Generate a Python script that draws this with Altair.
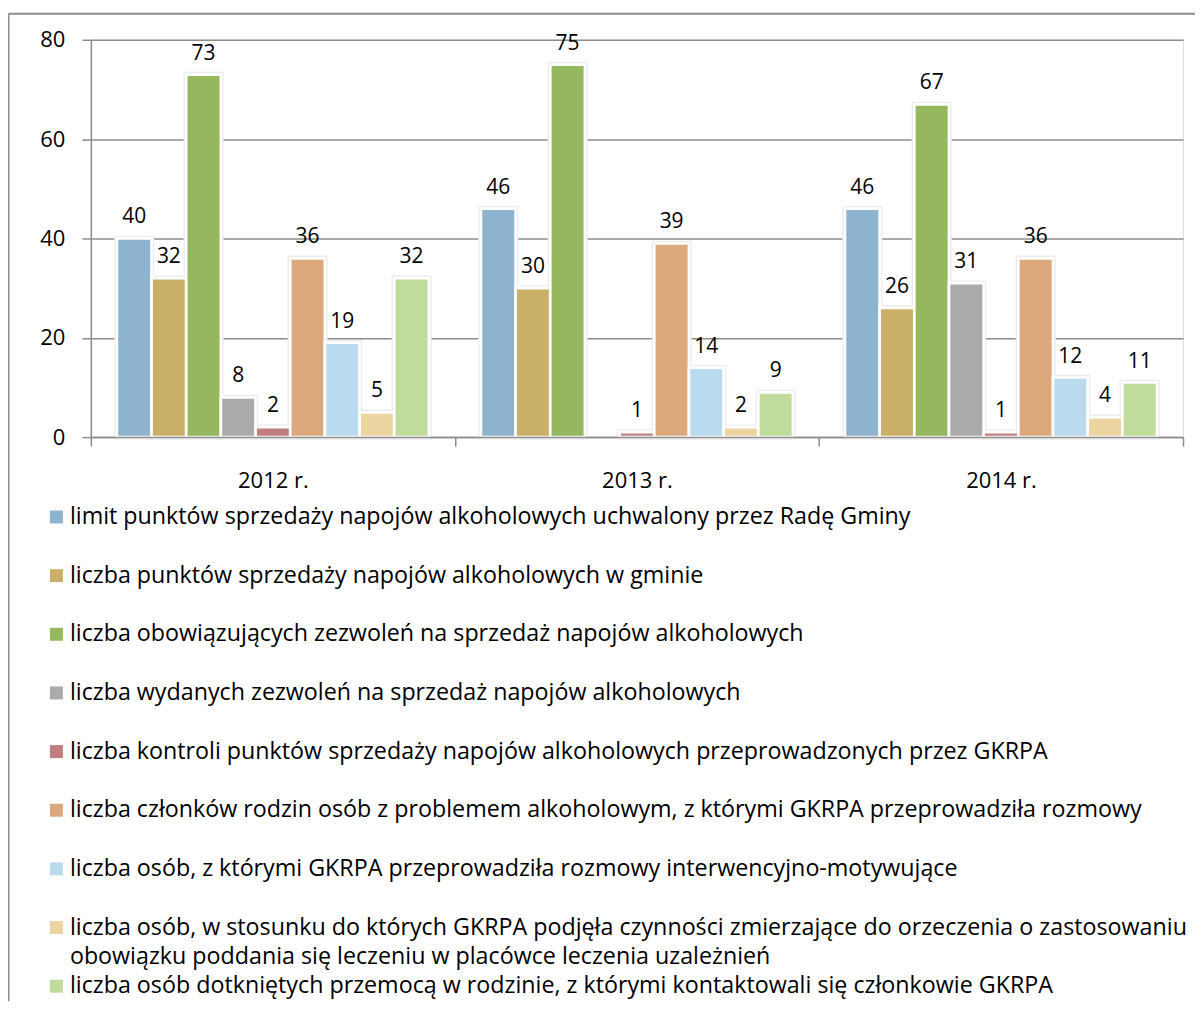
import altair as alt
import pandas as pd

years = ["2012 r.", "2013 r.", "2014 r."]
series = [
    "limit punktów sprzedaży napojów alkoholowych uchwalony przez Radę Gminy",
    "liczba punktów sprzedaży napojów alkoholowych w gminie",
    "liczba obowiązujących zezwoleń na sprzedaż napojów alkoholowych",
    "liczba wydanych zezwoleń na sprzedaż napojów alkoholowych",
    "liczba kontroli punktów sprzedaży napojów alkoholowych przeprowadzonych przez GKRPA",
    "liczba członków rodzin osób z problemem alkoholowym, z którymi GKRPA przeprowadziła rozmowy",
    "liczba osób, z którymi GKRPA przeprowadziła rozmowy interwencyjno-motywujące",
    "liczba osób, w stosunku do których GKRPA podjęła czynności zmierzające do orzeczenia o zastosowaniu\nobowiązku poddania się leczeniu w placówce leczenia uzależnień",
    "liczba osób dotkniętych przemocą w rodzinie, z którymi kontaktowali się członkowie GKRPA",
]
colors = ["#8DB3CF", "#C9B066", "#95B75D", "#AAAAAA", "#C07E7E",
          "#DDA97C", "#BADAEE", "#EDD5A2", "#C0DB9C"]
v2012 = [40, 32, 73, 8, 2, 36, 19, 5, 32]
v2013 = [46, 30, 75, None, 1, 39, 14, 2, 9]
v2014 = [46, 26, 67, 31, 1, 36, 12, 4, 11]
y_ticks = [0, 20, 40, 60, 80]

rows = []
for yr, vals in zip(years, [v2012, v2013, v2014]):
    for s, v in zip(series, vals):
        rows.append({"year": yr, "series": s, "value": v})
df = pd.DataFrame(rows)
leg = pd.DataFrame({"series": series, "idx": list(range(len(series)))})

W, H = 1094, 398
FONT = "Open Sans"
GRID = "#8C8C8C"

x_enc = alt.X("year:N", sort=years,
              scale=alt.Scale(paddingInner=0, paddingOuter=0),
              axis=alt.Axis(title=None, labelAngle=0, tickBand="extent",
                            labelFontSize=22, labelPadding=24, tickSize=9,
                            tickColor=GRID, domainColor=GRID, tickWidth=1.5,
                            domainWidth=1.5, labelColor="#000000", labelFont=FONT,
                            zindex=1))
xo_enc = alt.XOffset("series:N", sort=series,
                     scale=alt.Scale(paddingInner=0, paddingOuter=0.75))
y_enc = alt.Y("value:Q", scale=alt.Scale(domain=[0, 80]),
              axis=alt.Axis(title=None, values=y_ticks, labelFontSize=22,
                            labelPadding=17, tickSize=9, tickColor=GRID,
                            domainColor=GRID, gridColor=GRID, grid=True,
                            tickWidth=1.5, domainWidth=1.5, gridWidth=1.5,
                            labelColor="#000000", labelFont=FONT))
c_enc = alt.Color("series:N", scale=alt.Scale(domain=series, range=colors), legend=None)

halo = alt.Chart(df).mark_bar(color="#EBEBEB", stroke="#ECECEC", strokeWidth=5.4).encode(
    x=x_enc, xOffset=xo_enc, y=y_enc)
bars = alt.Chart(df).mark_bar(stroke="white", strokeWidth=2.7).encode(
    x=x_enc, xOffset=xo_enc, y=y_enc, color=c_enc)
labels = alt.Chart(df).transform_filter("isValid(datum.value)").mark_text(
    baseline="alphabetic", dy=-15, fontSize=21, font=FONT, color="#000000"
).encode(x=x_enc, xOffset=xo_enc, y=y_enc, text=alt.Text("value:Q"))
main = alt.layer(halo, bars, labels)

ly = alt.Y("idx:Q", scale=alt.Scale(domain=[0, 8], range=[478, 948]), axis=None)
sq = alt.Chart(leg).mark_square(size=169, opacity=1).encode(
    x=alt.value(-34.5), y=ly, color=c_enc)
tx = alt.Chart(leg).mark_text(align="left", baseline="alphabetic", dy=7,
                              fontSize=23.3, font=FONT, color="#000000",
                              lineBreak="\n", lineHeight=30).encode(
    x=alt.value(-21), y=ly, text="series:N")
legend = alt.layer(sq, tx)

dummy = alt.Data(values=[{}])
frame_l = alt.Chart(dummy).mark_rule(color=GRID, strokeWidth=2).encode(
    x=alt.value(-82.5), y=alt.value(-26), y2=alt.value(H + 600))
frame_t = alt.Chart(dummy).mark_rule(color=GRID, strokeWidth=2).encode(
    x=alt.value(-82.5), x2=alt.value(W + 40), y=alt.value(-26))

chart = alt.layer(main, legend, frame_l, frame_t).resolve_scale(
    y="independent"
).properties(
    width=W, height=H,
    autosize=alt.AutoSizeParams(type="none"),
    padding={"left": 83, "top": 31, "right": 12, "bottom": 564},
).configure_view(stroke=None).configure(font=FONT)

chart.save("out.html", embed_options={"renderer": "svg", "actions": False})
